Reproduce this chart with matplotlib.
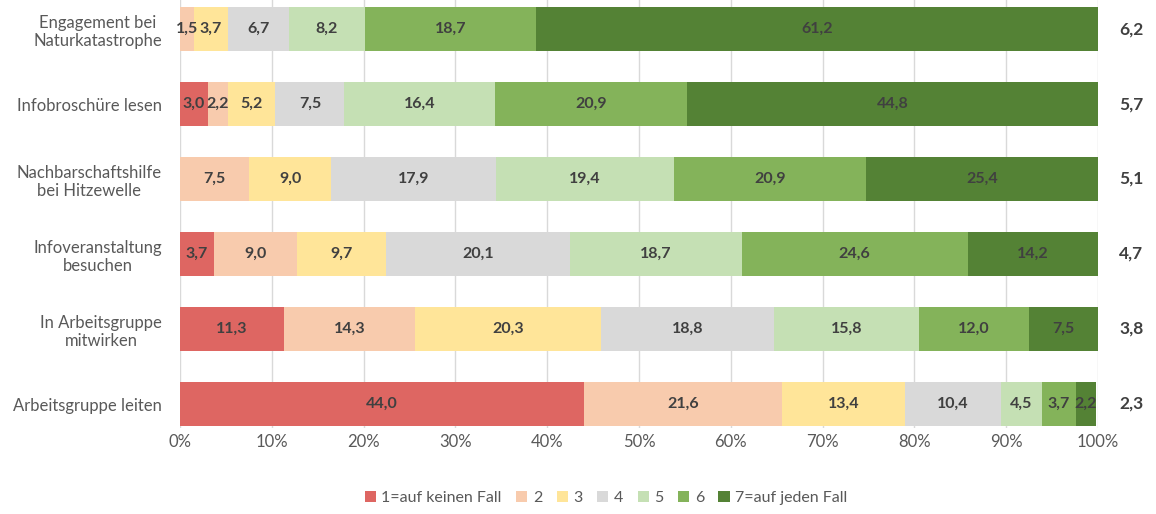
"""Stacked horizontal bar chart: willingness to take part in activities (1-7 scale)."""

import matplotlib

matplotlib.use("Agg")
import matplotlib.pyplot as plt
import numpy as np

plt.rcParams["font.family"] = ["Lato", "DejaVu Sans"]

categories = [
    "Engagement bei\nNaturkatastrophe",
    "Infobroschüre lesen",
    "Nachbarschaftshilfe\nbei Hitzewelle",
    "Infoveranstaltung\nbesuchen",
    "In Arbeitsgruppe\nmitwirken",
    "Arbeitsgruppe leiten",
]
series_names = ["1=auf keinen Fall", "2", "3", "4", "5", "6", "7=auf jeden Fall"]
s1 = [0.0, 3.0, 0.0, 3.7, 11.3, 44.0]
s2 = [1.5, 2.2, 7.5, 9.0, 14.3, 21.6]
s3 = [3.7, 5.2, 9.0, 9.7, 20.3, 13.4]
s4 = [6.7, 7.5, 17.9, 20.1, 18.8, 10.4]
s5 = [8.2, 16.4, 19.4, 18.7, 15.8, 4.5]
s6 = [18.7, 20.9, 20.9, 24.6, 12.0, 3.7]
s7 = [61.2, 44.8, 25.4, 14.2, 7.5, 2.2]
means = ["6,2", "5,7", "5,1", "4,7", "3,8", "2,3"]
x_ticks = [0, 10, 20, 30, 40, 50, 60, 70, 80, 90, 100]

colors = ["#DE6662", "#F8CBAD", "#FFE599", "#D9D9D9", "#C5E0B4", "#84B35A", "#548235"]
text_color = "#404040"

fig = plt.figure(figsize=(11.56, 5.14), dpi=100)
ax = fig.add_axes([180 / 1156, 1 - 428 / 514, 918 / 1156, 428 / 514])

y = np.arange(len(categories))
left = np.zeros(len(categories))
for name, vals, col in zip(series_names, [s1, s2, s3, s4, s5, s6, s7], colors):
    vals = np.array(vals)
    ax.barh(y, vals, left=left, height=0.587, color=col, label=name)
    for yi, l, v in zip(y, left, vals):
        if v > 0:
            ax.text(l + v / 2, yi, f"{v:.1f}".replace(".", ","), ha="center", va="center",
                    fontsize=11.5, fontweight="bold", color=text_color)
    left += vals

# mean values to the right of the bars
for yi, m in zip(y, means):
    ax.annotate(m, xy=(1.0, yi), xycoords=("axes fraction", "data"), xytext=(24, 0),
                textcoords="offset points", ha="center", va="center",
                fontsize=12.5, fontweight="bold", color=text_color, annotation_clip=False)

ax.set_xlim(0, 100)
ax.set_ylim(5.32, -0.387)
ax.set_xticks(x_ticks, labels=[f"{t}%" for t in x_ticks])
ax.set_yticks(y, labels=categories)
for lab in ax.get_yticklabels():
    lab.set_multialignment("center")
ax.tick_params(axis="both", length=0, labelsize=12, labelcolor="#595959")
ax.tick_params(axis="y", pad=13)
ax.tick_params(axis="x", pad=4)
ax.grid(axis="x", color="#D9D9D9", linewidth=1.0)
ax.set_axisbelow(True)
for spine in ax.spines.values():
    spine.set_visible(False)

fig.legend(loc="center", bbox_to_anchor=(606 / 1156, 1 - 498 / 514), ncol=7, frameon=False,
           fontsize=11.5, labelcolor="#595959", handlelength=0.7, handleheight=0.7,
           handletextpad=0.35, columnspacing=0.9)

fig.savefig("out.png", dpi=100)
